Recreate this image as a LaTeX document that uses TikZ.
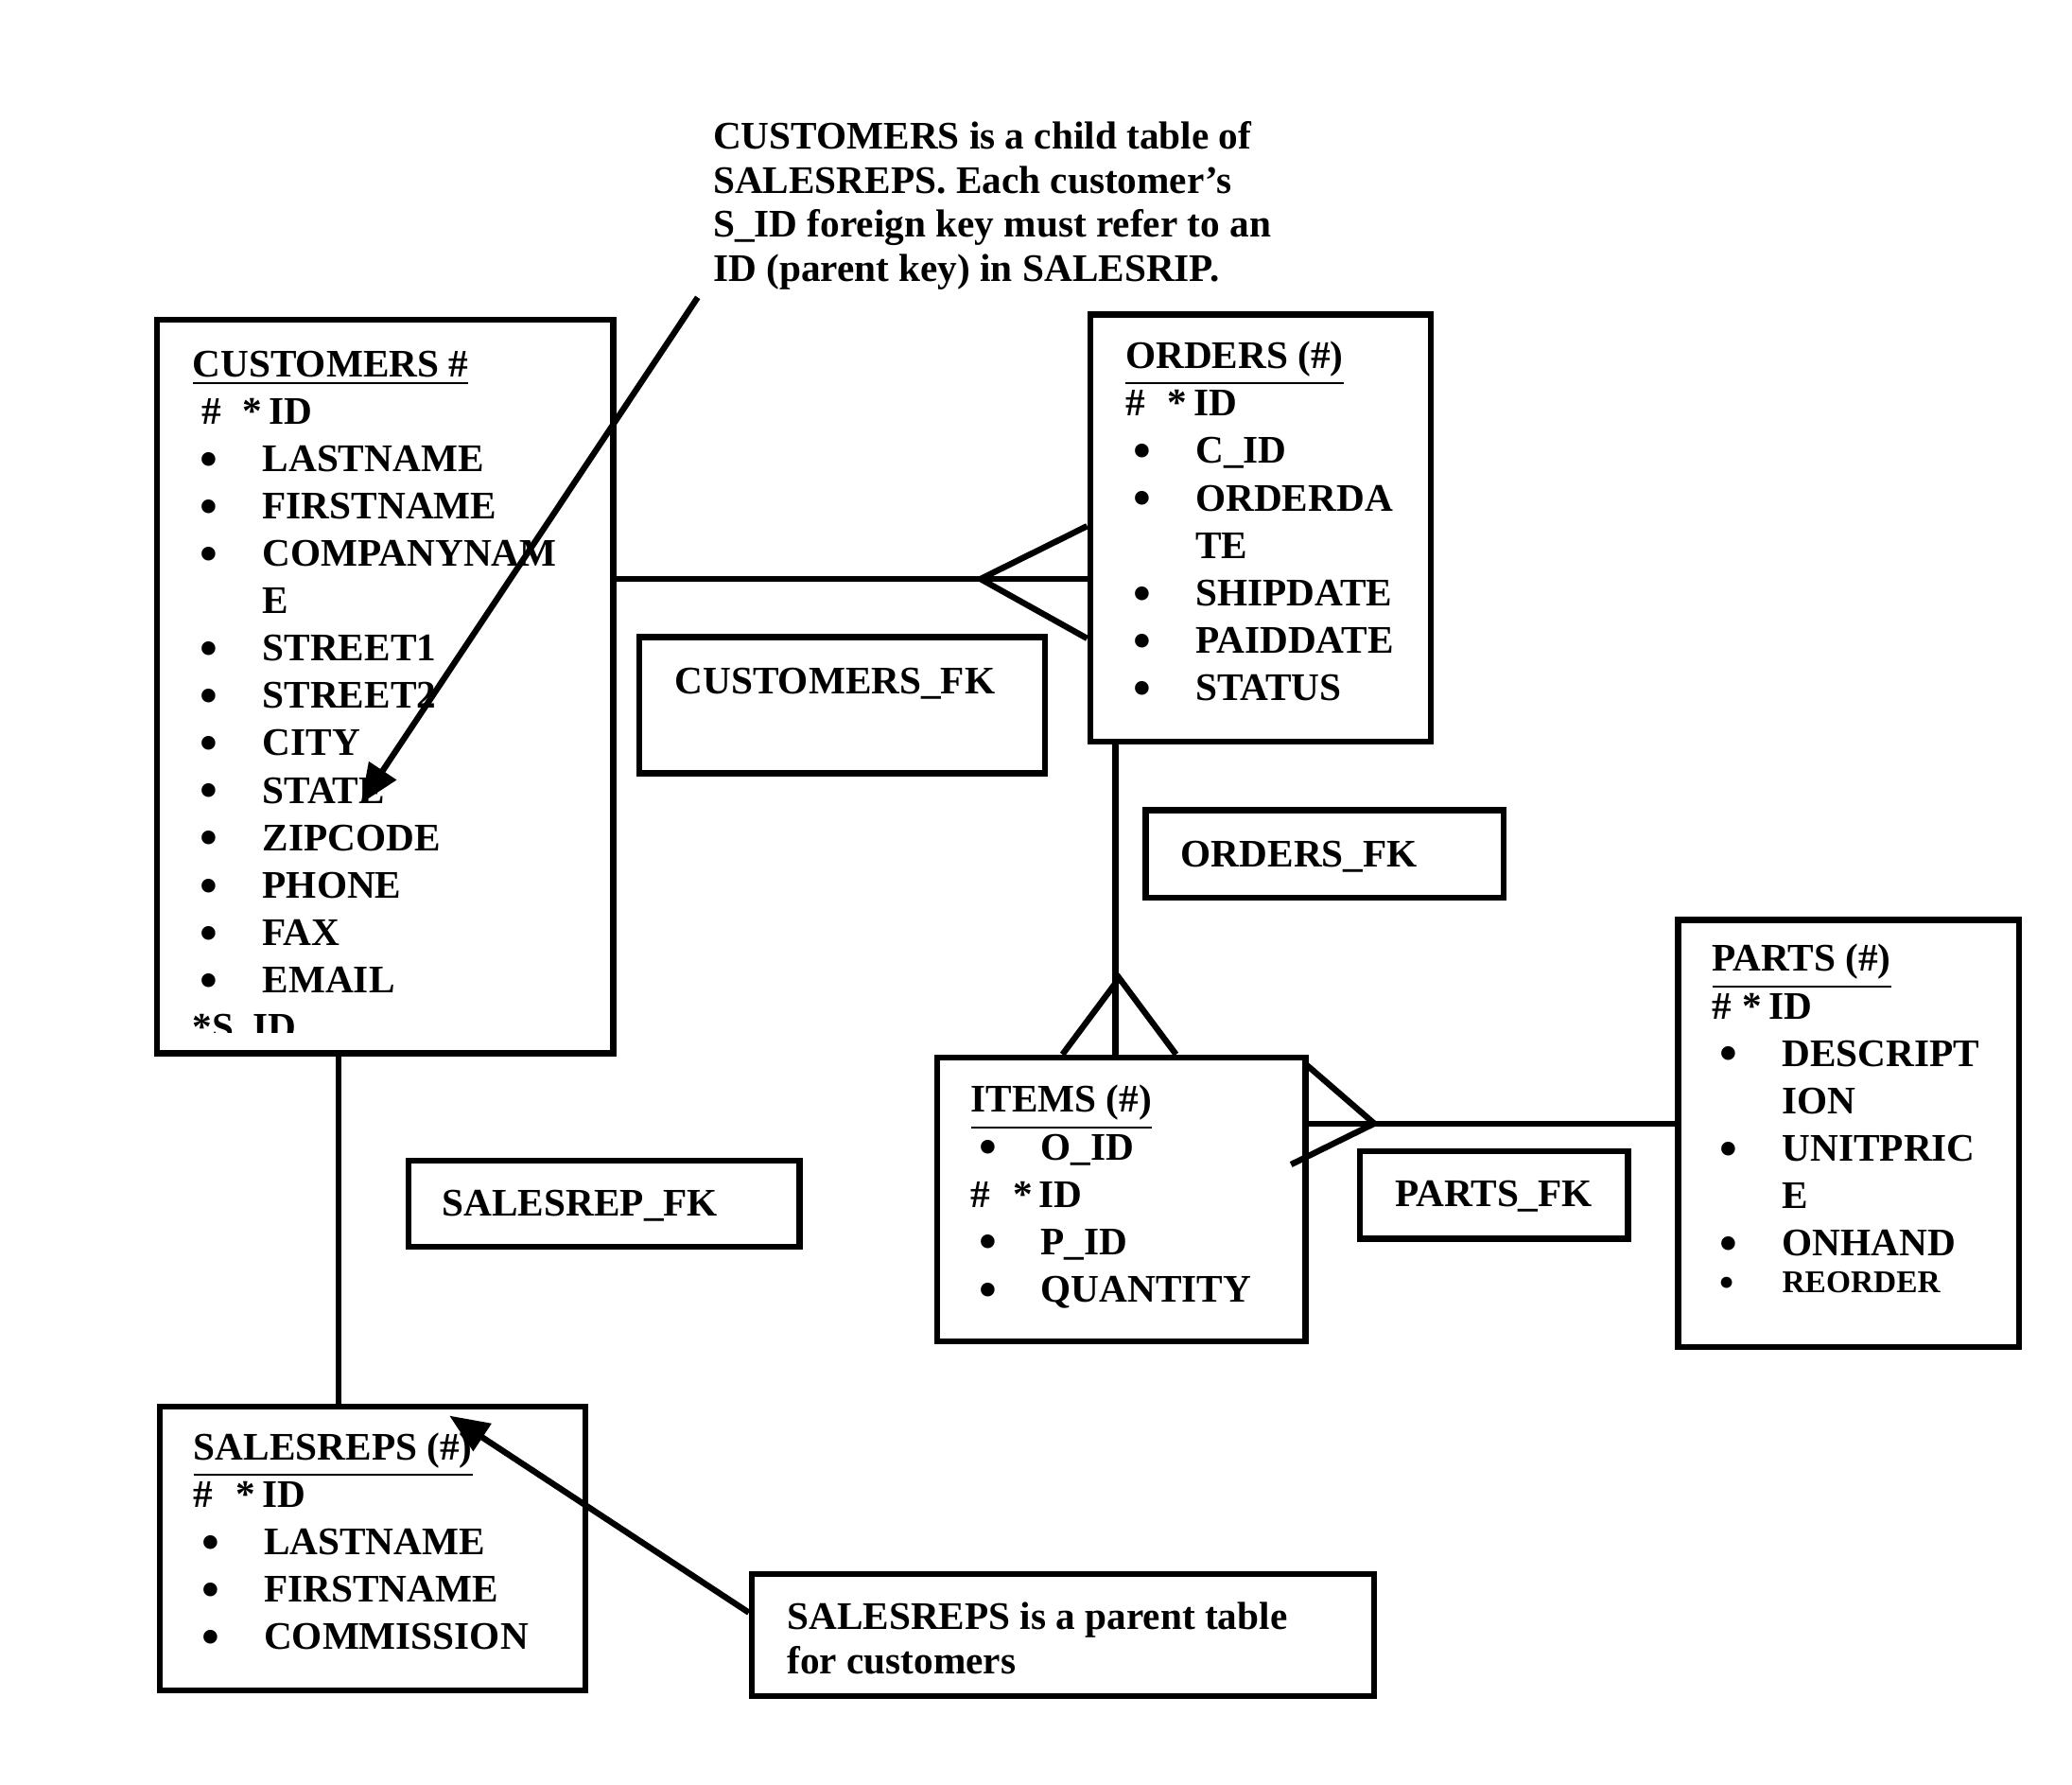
\documentclass[tikz,border=0pt]{standalone}
\usepackage{fontspec}
\setmainfont{Liberation Serif}
\usetikzlibrary{fit,arrows.meta}
\tikzset{
  tbl/.style={draw,line width=1.3pt,inner sep=0pt},
  rows/.style={anchor=base west,inner sep=0pt,align=left,font=\fontsize{8.4}{10.2}\selectfont\bfseries},
  lbl/.style={anchor=base west,inner sep=0pt,align=left,font=\fontsize{8.4}{9.5}\selectfont\bfseries},
  conn/.style={line width=1.3pt},
  arr/.style={line width=1.3pt,-{Triangle[length=0.3cm,width=0.24cm]}}
}
% one attribute row, a wrapped row, and the key row
\newcommand{\bl}[1]{\makebox[0.53cm][l]{\hspace{0.06cm}\raisebox{-0.25ex}{\scalebox{1.3}{\textbullet}}}#1}
\newcommand{\cont}[1]{\hspace{0.53cm}#1}
\newcommand{\pk}[2]{\hspace{#1}\makebox[#2][l]{\#}*\,ID}

\begin{document}
\begin{tikzpicture}[x=0.01cm,y=-0.01cm]
  \useasboundingbox (0,0) rectangle (1568,1350);
  % tables and fk boxes
  \node[tbl, fit={(119,242) (464,797)}] (cust) {};
  \node[tbl, fit={(825,238) (1083,561)}] (ord) {};
  \node[tbl, fit={(709,800) (988,1015)}] (itm) {};
  \node[tbl, fit={(1270,696) (1528,1019)}] (prt) {};
  \node[tbl, fit={(121,1064) (443,1279)}] (srep) {};
  \node[tbl, fit={(484,482) (791,585)}] (cfk) {};
  \node[tbl, fit={(867,613) (1138,679)}] (ofk) {};
  \node[tbl, fit={(1029,871) (1232,937)}] (pfk) {};
  \node[tbl, fit={(309,878) (605,943)}] (sfk) {};
  \node[tbl, fit={(569,1191) (1040,1283)}] (note2) {};

  % multi-line texts sit on their last baseline
  \begin{scope}
    \clip (119,242) rectangle (464,781);
    \node[rows] (custtxt) at (145,787) {\underline{CUSTOMERS \#}\\ \pk{0.07cm}{0.31cm}\\
      \bl{LASTNAME}\\ \bl{FIRSTNAME}\\ \bl{COMPANYNAM}\\ \cont{E}\\ \bl{STREET1}\\
      \bl{STREET2}\\ \bl{CITY}\\ \bl{STATE}\\ \bl{ZIPCODE}\\ \bl{PHONE}\\ \bl{FAX}\\
      \bl{EMAIL}\\ *S\_ID};
  \end{scope}
  \node[rows] (ordtxt) at (851,530) {\underline{ORDERS (\#)}\\ \pk{0cm}{0.32cm}\\
    \bl{C\_ID}\\ \bl{ORDERDA}\\ \cont{TE}\\ \bl{SHIPDATE}\\ \bl{PAIDDATE}\\ \bl{STATUS}};
  \node[rows] (itmtxt) at (734,985) {\underline{ITEMS (\#)}\\ \bl{O\_ID}\\
    \pk{0cm}{0.32cm}\\ \bl{P\_ID}\\ \bl{QUANTITY}};
  \node[rows] (prttxt) at (1295,978) {\underline{PARTS (\#)}\\ \pk{0cm}{0.23cm}\\
    \bl{DESCRIPT}\\ \cont{ION}\\ \bl{UNITPRIC}\\ \cont{E}\\ \bl{ONHAND}\\[-0.08cm]
    {\fontsize{6.8}{8}\selectfont\bl{REORDER}}};
  \node[rows] (sreptxt) at (146,1248) {\underline{SALESREPS (\#)}\\ \pk{0cm}{0.32cm}\\
    \bl{LASTNAME}\\ \bl{FIRSTNAME}\\ \bl{COMMISSION}};

  \node[lbl] (cfktxt) at (510,525) {CUSTOMERS\_FK};
  \node[lbl] (ofktxt) at (893,656) {ORDERS\_FK};
  \node[lbl] (pfktxt) at (1055,913) {PARTS\_FK};
  \node[lbl] (sfktxt) at (334,920) {SALESREP\_FK};
  \node[lbl] (note2txt) at (595,1266) {SALESREPS is a parent table\\ for customers};
  \node[lbl] (note1) at (539,213) {CUSTOMERS is a child table of\\ SALESREPS. Each customer's\\
    S\_ID foreign key must refer to an\\ ID (parent key) in SALESRIP.};

  % relationships
  \coordinate (co) at (742,438);
  \coordinate (cu) at (800,398);
  \coordinate (cl) at (800,483);
  \draw[conn] (cust.east |- co) -- (ord.west |- co);
  \draw[conn] (ord.west |- cu) -- (co) -- (ord.west |- cl);

  \coordinate (ov) at (844,0);
  \coordinate (oi) at (847,740);
  \coordinate (il) at (804,0);
  \coordinate (ir) at (890,0);
  \draw[conn] (ord.south -| ov) -- (itm.north -| ov);
  \draw[conn] (itm.north -| il) -- (oi) -- (itm.north -| ir);

  \coordinate (ip) at (1040,850);
  \coordinate (iup) at (988,805);
  \coordinate (ilo) at (977,881);
  \draw[conn] (itm.east |- ip) -- (prt.west |- ip);
  \draw[conn] (iup) -- (ip) -- (ilo);

  \coordinate (cs) at (256,0);
  \draw[conn] (cust.south -| cs) -- (srep.north -| cs);

  % notes
  \coordinate (n1) at (528,225);
  \coordinate (tipC) at (273,608);
  \draw[arr] (n1) -- (tipC);
  \coordinate (n2) at (0,1220);
  \coordinate (tipS) at (340,1071);
  \draw[arr] (note2.west |- n2) -- (tipS);
\end{tikzpicture}
\end{document}
